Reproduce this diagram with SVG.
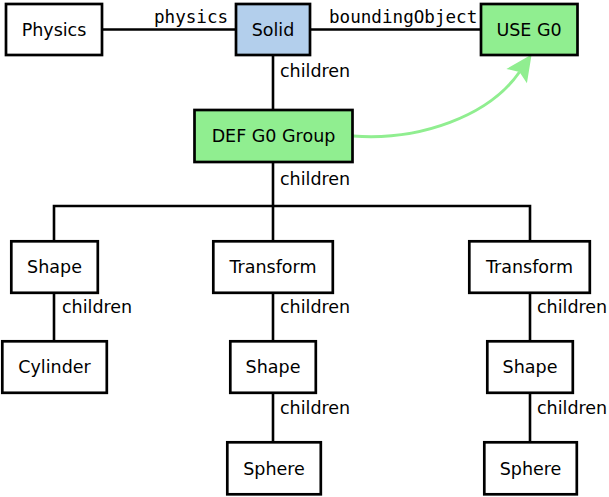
<svg xmlns="http://www.w3.org/2000/svg" width="609" height="497" viewBox="0 0 609 497">
<style>
.box{fill:#ffffff;stroke:#000;stroke-width:2.7}
.blue{fill:#b3cfec}
.green{fill:#90ee90}
.t{font-family:"DejaVu Sans","Liberation Sans",sans-serif;font-size:17.5px;fill:#000;text-anchor:middle}
.lbl{font-family:"DejaVu Sans","Liberation Sans",sans-serif;font-size:17.5px;fill:#000}
.mono{font-family:"DejaVu Sans Mono","Liberation Mono",monospace;font-size:17.6px;fill:#000}
.edge{fill:none;stroke:#000;stroke-width:2.6}
.ref{fill:none;stroke:#90ee90;stroke-width:3}
</style>
<defs>
<marker id="ah" markerUnits="userSpaceOnUse" markerWidth="30" markerHeight="30" refX="2" refY="0" viewBox="-2 -12 24 24" orient="auto" overflow="visible">
<path d="M-2,-10 L19,0 L-2,10 L2,0 z" fill="#90ee90"/>
</marker>
</defs>
<g id="connectors">
<path class="edge" d="M102,29.5 H236"/>
<path class="edge" d="M310,29.5 H481"/>
<path class="edge" d="M273,55 V110"/>
<path class="edge" d="M273,162 V206"/>
<path class="edge" d="M54,241 V206 H530 V241"/>
<path class="edge" d="M273,206 V241"/>
<path class="edge" d="M54,293 V341"/>
<path class="edge" d="M273,293 V341"/>
<path class="edge" d="M530,293 V341"/>
<path class="edge" d="M273,393 V442"/>
<path class="edge" d="M530,393 V442"/>
<path class="ref" d="M353,136 C420,141 489,116 519.5,72" marker-end="url(#ah)"/>
<text class="mono" x="154" y="23">physics</text>
<text class="mono" x="329" y="23">boundingObject</text>
<text class="lbl" x="280" y="77">children</text>
<text class="lbl" x="280" y="185">children</text>
<text class="lbl" x="62" y="313">children</text>
<text class="lbl" x="280" y="313">children</text>
<text class="lbl" x="537" y="313">children</text>
<text class="lbl" x="280" y="414">children</text>
<text class="lbl" x="537" y="414">children</text>
</g>
<g id="physics"><rect class="box" x="6" y="4" width="96" height="51"/><text class="t" x="54" y="35.5">Physics</text></g>
<g id="solid"><rect class="box blue" x="236" y="4" width="74" height="51"/><text class="t" x="273" y="35.5">Solid</text></g>
<g id="useg0"><rect class="box green" x="481" y="4" width="96.5" height="51"/><text class="t" x="529" y="35.5">USE G0</text></g>
<g id="defg0"><rect class="box green" x="194.5" y="110" width="158" height="52"/><text class="t" x="273.5" y="142">DEF G0 Group</text></g>
<g id="shape1"><rect class="box" x="11.3" y="241.3" width="86.5" height="51.5"/><text class="t" x="54.5" y="273">Shape</text></g>
<g id="transform1"><rect class="box" x="213.3" y="241.3" width="119.5" height="51.5"/><text class="t" x="273" y="273">Transform</text></g>
<g id="transform2"><rect class="box" x="469.3" y="241.3" width="120.5" height="51.5"/><text class="t" x="529.5" y="273">Transform</text></g>
<g id="cylinder"><rect class="box" x="2.3" y="341.3" width="104.5" height="51.5"/><text class="t" x="54.5" y="373">Cylinder</text></g>
<g id="shape2"><rect class="box" x="230.3" y="341.3" width="85.5" height="51.5"/><text class="t" x="273" y="373">Shape</text></g>
<g id="shape3"><rect class="box" x="487.3" y="341.3" width="85.5" height="51.5"/><text class="t" x="530" y="373">Shape</text></g>
<g id="sphere1"><rect class="box" x="227.3" y="442.3" width="93.5" height="52"/><text class="t" x="274" y="474.5">Sphere</text></g>
<g id="sphere2"><rect class="box" x="484.3" y="442.3" width="92.5" height="52"/><text class="t" x="530.5" y="474.5">Sphere</text></g>
</svg>
